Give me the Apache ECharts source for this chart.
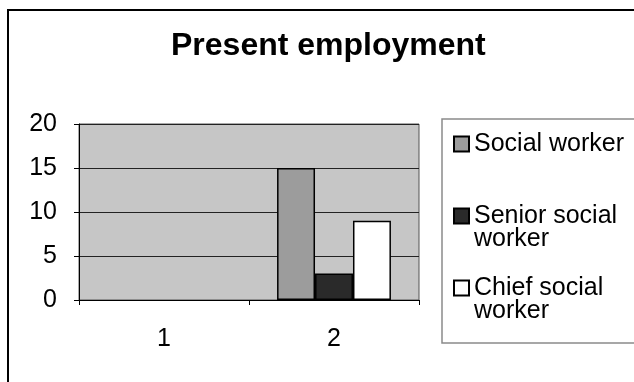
<!DOCTYPE html>
<html>
<head>
<meta charset="utf-8">
<script src="https://cdn.jsdelivr.net/npm/echarts@6/dist/echarts.min.js"></script>
<style>html,body{margin:0;padding:0;background:#fff}#c{width:634px;height:382px}</style>
</head>
<body>
<div id="c"></div>
<script>
const titleText = 'Present employment';
const categories = ['1', '2'];
const seriesNames = ['Social worker', 'Senior social worker', 'Chief social worker'];
const legendLabels = ['Social worker', ' \nSenior social\nworker', ' \nChief social\nworker'];
const socialWorker = [null, 15];
const seniorSocialWorker = [null, 3];
const chiefSocialWorker = [null, 9];
const yTicks = { min: 0, max: 20, interval: 5 };

const FONT = 'Arial, "Liberation Sans", sans-serif';
const colors = ['#9c9c9c', '#2a2a2a', '#ffffff'];
const values = [socialWorker, seniorSocialWorker, chiefSocialWorker];

const chart = echarts.init(document.getElementById('c'), null, { renderer: 'canvas' });

const legendTops = [131.5, 180.5, 252.5];
const legends = seriesNames.map((name, i) => ({
  data: [name],
  left: 453,
  top: legendTops[i],
  padding: 0,
  itemWidth: 15,
  itemHeight: 15,
  itemGap: 0,
  icon: 'rect',
  selectedMode: false,
  formatter: () => legendLabels[i],
  textStyle: {
    fontFamily: FONT,
    fontSize: 25,
    color: '#000',
    lineHeight: 23
  }
}));

chart.setOption({
  animation: false,
  backgroundColor: '#ffffff',
  title: {
    text: titleText,
    left: 171,
    top: 30,
    padding: 0,
    textStyle: { fontFamily: FONT, fontSize: 32, fontWeight: 'bold', color: '#000' }
  },
  graphic: [
    { type: 'rect', shape: { x: 8, y: 10, width: 640, height: 390 }, style: { fill: 'none', stroke: '#000', lineWidth: 2 }, silent: true, z: -10 },
    { type: 'rect', shape: { x: 442, y: 119, width: 210, height: 224 }, style: { fill: 'none', stroke: '#8a8a8a', lineWidth: 1.5 }, silent: true, z: -10 }
  ],
  legend: legends,
  grid: {
    left: 79, right: 215, top: 124, bottom: 82,
    show: true, backgroundColor: '#c6c6c6', borderColor: '#555', borderWidth: 1
  },
  xAxis: {
    type: 'category',
    data: categories,
    axisLine: { lineStyle: { color: '#000', width: 1 } },
    axisTick: { show: true, length: 5, lineStyle: { color: '#000' } },
    axisLabel: { fontFamily: FONT, fontSize: 25, color: '#000', margin: 27 },
    splitLine: { show: false }
  },
  yAxis: {
    type: 'value',
    min: yTicks.min, max: yTicks.max, interval: yTicks.interval,
    axisLine: { show: true, lineStyle: { color: '#000', width: 1 } },
    axisTick: { show: true, length: 5, lineStyle: { color: '#000' } },
    axisLabel: { fontFamily: FONT, fontSize: 25, color: '#000', margin: 22 },
    splitLine: { show: true, lineStyle: { color: '#222', width: 1 } }
  },
  series: seriesNames.map((name, i) => ({
    name,
    type: 'bar',
    data: values[i],
    barGap: '0%',
    barCategoryGap: '33%',
    itemStyle: { color: colors[i], borderColor: '#000', borderWidth: 1.5 }
  }))
});
</script>
</body>
</html>
